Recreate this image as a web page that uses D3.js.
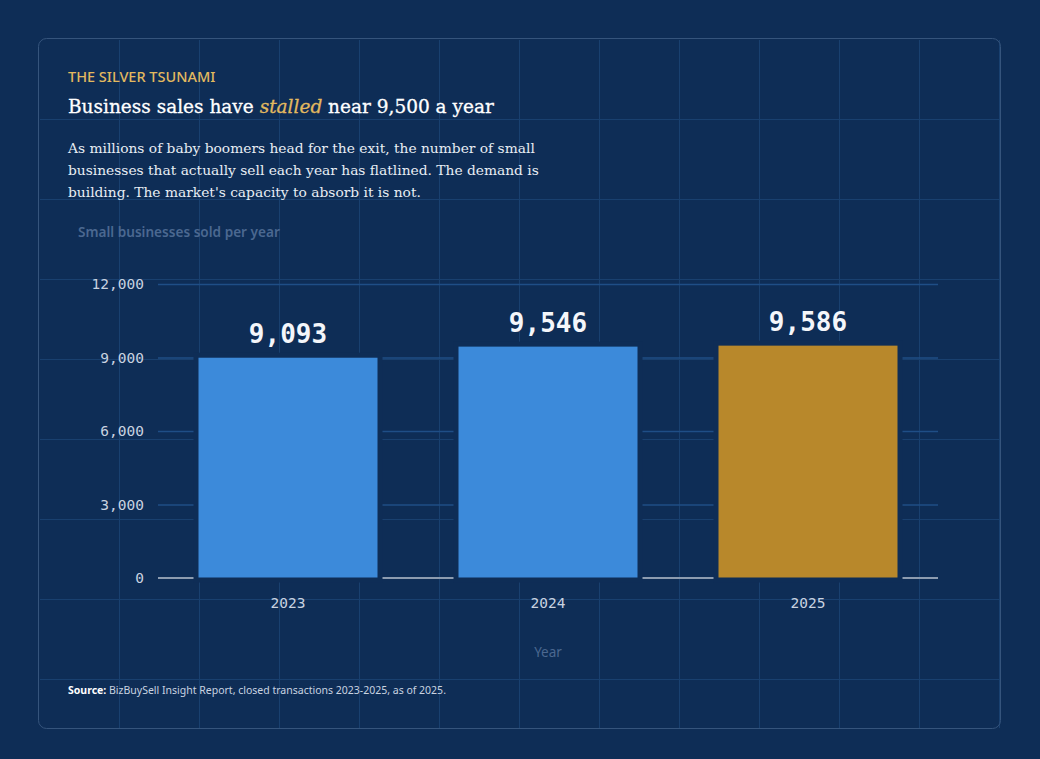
<!DOCTYPE html>
<html>
<head>
<meta charset="utf-8">
<script src="https://cdn.jsdelivr.net/npm/d3@7"></script>
<style>
body { margin: 0; background: #0e2d56; }
svg { display: block; }
</style>
</head>
<body>
<div id="chart"></div>
<script>
// data
var years = ["2023", "2024", "2025"];
var sold = [9093, 9546, 9586];
var yTicks = [0, 3000, 6000, 9000, 12000];

var W = 1040, H = 759;
var bg = "#0e2d56";

var svg = d3.select("#chart").append("svg")
	.attr("width", W)
	.attr("height", H);

// faint background grid, every 80px, only inside the card
var gridG = svg.append("g");
for (var gx = 119; gx < 1000; gx += 80) {
	gridG.append("line").attr("x1", gx + 0.5).attr("x2", gx + 0.5).attr("y1", 40).attr("y2", 728)
		.attr("stroke", "#19406f").attr("stroke-width", 1);
}
for (var gy = 119; gy < 728; gy += 80) {
	gridG.append("line").attr("x1", 40).attr("x2", 1000).attr("y1", gy + 0.5).attr("y2", gy + 0.5)
		.attr("stroke", "#19406f").attr("stroke-width", 1);
}

// card border
svg.append("rect")
	.attr("x", 38.5).attr("y", 38.5)
	.attr("width", 962).attr("height", 690)
	.attr("rx", 8)
	.attr("fill", "none")
	.attr("stroke", "#35547c")
	.attr("stroke-width", 1);

// header texts
svg.append("text")
	.attr("x", 68).attr("y", 82)
	.attr("font-family", "'Noto Sans', sans-serif")
	.attr("font-size", "14.5px")
	.attr("font-weight", 500)
	.attr("fill", "#e2b95f")
	.text("THE SILVER TSUNAMI");

var title = svg.append("text")
	.attr("x", 68).attr("y", 113)
	.attr("font-family", "'DejaVu Serif', serif")
	.attr("font-size", "18.5px")
	.attr("font-weight", 500)
	.attr("stroke", "#ffffff")
	.attr("stroke-width", 0.3)
	.attr("fill", "#ffffff");
title.append("tspan").text("Business sales have ");
title.append("tspan").attr("font-style", "italic").attr("fill", "#e2b95f").attr("stroke", "#e2b95f").text("stalled");
title.append("tspan").text(" near 9,500 a year");

var para = ["As millions of baby boomers head for the exit, the number of small",
	"businesses that actually sell each year has flatlined. The demand is",
	"building. The market's capacity to absorb it is not."];
svg.append("g").selectAll("text")
	.data(para)
	.enter().append("text")
	.attr("x", 68)
	.attr("y", function(d, i) { return 153 + i * 22; })
	.attr("font-family", "'DejaVu Serif', serif")
	.attr("font-size", "13.8px")
	.attr("fill", "#e8edf4")
	.text(function(d) { return d; });

svg.append("text")
	.attr("x", 78).attr("y", 237)
	.attr("font-family", "'Noto Sans', sans-serif")
	.attr("font-size", "13.6px")
	.attr("font-weight", 600)
	.attr("fill", "#4b6890")
	.text("Small businesses sold per year");

// scales
var x = d3.scaleBand()
	.domain(years)
	.range([158, 938])
	.paddingInner(0.3)
	.paddingOuter(0.15);

var y = d3.scaleLinear()
	.domain([0, 12000])
	.range([578, 284]);

// y gridlines
svg.append("g").selectAll("line")
	.data(yTicks.filter(function(d) { return d > 0; }))
	.enter().append("line")
	.attr("x1", 158).attr("x2", 938)
	.attr("y1", function(d) { return y(d) + 0.5; })
	.attr("y2", function(d) { return y(d) + 0.5; })
	.attr("stroke", "#1f4e86")
	.attr("stroke-width", 1.5);

// baseline
svg.append("line")
	.attr("x1", 158).attr("x2", 938)
	.attr("y1", y(0)).attr("y2", y(0))
	.attr("stroke", "#8d9cb0")
	.attr("stroke-width", 2);

// y axis
var yAxis = svg.append("g")
	.attr("transform", "translate(144,0)")
	.call(d3.axisLeft(y).tickValues(yTicks).tickSize(0).tickPadding(0)
		.tickFormat(d3.format(",")));
yAxis.select(".domain").remove();
yAxis.selectAll("text")
	.attr("font-family", "'DejaVu Sans Mono', monospace")
	.attr("font-size", "14.5px")
	.attr("fill", "#c9d3e0");

// x axis
var xAxis = svg.append("g")
	.attr("transform", "translate(0,592)")
	.call(d3.axisBottom(x).tickSize(0).tickPadding(6));
xAxis.select(".domain").remove();
xAxis.selectAll("text")
	.attr("font-family", "'DejaVu Sans Mono', monospace")
	.attr("font-size", "14.5px")
	.attr("fill", "#c9d3e0");

// bars
svg.append("g").selectAll("rect")
	.data(sold)
	.enter().append("rect")
	.attr("x", function(d, i) { return x(years[i]) - 1; })
	.attr("width", x.bandwidth() + 2)
	.attr("y", function(d) { return y(d); })
	.attr("height", function(d) { return y(0) - y(d) + 2; })
	.attr("fill", function(d, i) { return i == years.length - 1 ? "#b8882b" : "#3c8ada"; })
	.attr("stroke", bg)
	.attr("stroke-width", 5);

// value labels
svg.append("g").selectAll("text")
	.data(sold)
	.enter().append("text")
	.attr("x", function(d, i) { return x(years[i]) + x.bandwidth() / 2; })
	.attr("y", function(d) { return y(d) - 12; })
	.attr("text-anchor", "middle")
	.attr("font-family", "'DejaVu Sans Mono', monospace")
	.attr("font-size", "26px")
	.attr("font-weight", "bold")
	.attr("fill", "#f4f6fa")
	.text(function(d) { return d3.format(",")(d); });

svg.append("text")
	.attr("x", 548).attr("y", 657)
	.attr("text-anchor", "middle")
	.attr("font-family", "'Noto Sans', sans-serif")
	.attr("font-size", "13.5px")
	.attr("fill", "#4b6890")
	.text("Year");

// source
var src = svg.append("text")
	.attr("x", 68).attr("y", 694)
	.attr("font-family", "'Noto Sans', sans-serif")
	.attr("font-size", "10.5px")
	.attr("fill", "#c9d3e0");
src.append("tspan").attr("font-weight", "bold").attr("fill", "#ffffff").text("Source:");
src.append("tspan").text(" BizBuySell Insight Report, closed transactions 2023-2025, as of 2025.");
</script>
</body>
</html>
